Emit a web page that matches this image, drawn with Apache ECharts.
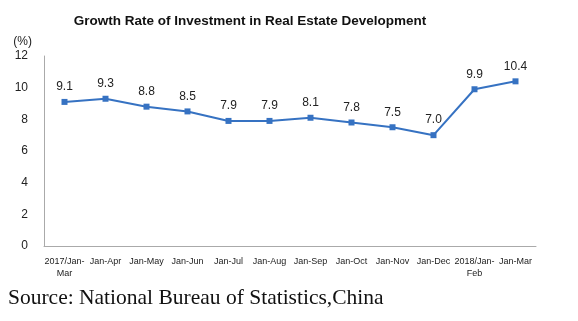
<!DOCTYPE html>
<html>
<head>
<meta charset="utf-8">
<script src="https://cdn.jsdelivr.net/npm/echarts@6/dist/echarts.min.js"></script>
<style>
  html, body { margin: 0; padding: 0; background: #fff; }
  #chart { width: 578px; height: 321px; }
</style>
</head>
<body>
<div id="chart"></div>
<script>
// Periods (cumulative, year-on-year)
const periods = ['2017/Jan-\nMar', 'Jan-Apr', 'Jan-May', 'Jan-Jun', 'Jan-Jul', 'Jan-Aug',
  'Jan-Sep', 'Jan-Oct', 'Jan-Nov', 'Jan-Dec', '2018/Jan-\nFeb', 'Jan-Mar'];
// Growth rate, %
const growthRate = [9.1, 9.3, 8.8, 8.5, 7.9, 7.9, 8.1, 7.8, 7.5, 7.0, 9.9, 10.4];
const yTicks = [0, 2, 4, 6, 8, 10, 12];

const chart = echarts.init(document.getElementById('chart'));
chart.setOption({
  animation: false,
  backgroundColor: '#fff',
  title: [{
    text: 'Growth Rate of Investment in Real Estate Development',
    left: 250, top: 14, textAlign: 'center', padding: 0,
    textStyle: { fontFamily: 'Liberation Sans', fontWeight: 'bold', fontSize: 13.5, color: '#111' }
  }, {
    text: 'Source: National Bureau of Statistics,China',
    left: 8, top: 287, padding: 0,
    textStyle: { fontFamily: 'Liberation Serif', fontWeight: 'normal', fontSize: 21.5, color: '#111' }
  }],
  grid: { left: 44, right: 42, top: 56, bottom: 75, containLabel: false },
  xAxis: {
    type: 'category',
    data: periods,
    boundaryGap: true,
    axisLine: { lineStyle: { color: '#aaa', width: 1 } },
    axisTick: { inside: true, length: 4, lineStyle: { color: '#aaa' } },
    axisLabel: {
      interval: 0, margin: 10, color: '#222', fontSize: 9,
      fontFamily: 'Liberation Sans', lineHeight: 12
    }
  },
  yAxis: {
    type: 'value',
    min: yTicks[0], max: yTicks[yTicks.length - 1], interval: 2,
    name: '(%)',
    nameLocation: 'end',
    nameGap: 8,
    nameTextStyle: { align: 'right', padding: [0, 12, 0, 0], color: '#222', fontSize: 12, fontFamily: 'Liberation Sans' },
    axisLine: { show: true, lineStyle: { color: '#aaa', width: 1 } },
    axisTick: { show: false },
    splitLine: { show: false },
    axisLabel: { margin: 16, color: '#222', fontSize: 12, fontFamily: 'Liberation Sans' }
  },
  series: [{
    type: 'line',
    data: growthRate,
    symbol: 'rect',
    symbolSize: 6,
    lineStyle: { color: '#3672c2', width: 2 },
    itemStyle: { color: '#3672c2' },
    label: {
      show: true, position: 'top', distance: 6,
      color: '#222', fontSize: 12, fontFamily: 'Liberation Sans',
      formatter: p => p.value.toFixed(1)
    }
  }]
});
</script>
</body>
</html>
